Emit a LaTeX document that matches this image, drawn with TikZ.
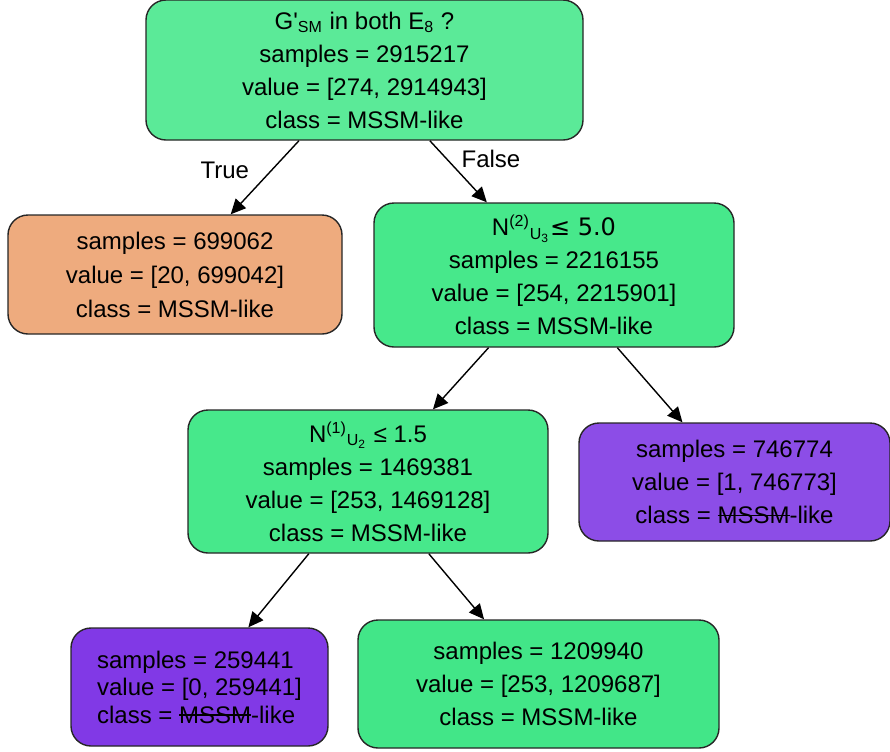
\documentclass[tikz,border=0pt]{standalone}
\usepackage{fontspec}
\setmainfont{Liberation Sans}
\newfontfamily\dejavu{DejaVu Sans}
\usetikzlibrary{arrows.meta}

\newsavebox{\strikebox}
\newcommand{\strikeword}[1]{\sbox{\strikebox}{#1}\rlap{\rule[0.3em]{\wd\strikebox}{0.07em}}\usebox{\strikebox}}

\definecolor{rootgreen}{HTML}{5BEA98}
\definecolor{splitgreen}{HTML}{47E88B}
\definecolor{leafgreen}{HTML}{42E688}
\definecolor{leaforange}{HTML}{EEAB7E}
\definecolor{leafpurple}{HTML}{8C4DE7}
\definecolor{deeppurple}{HTML}{8139E6}

\tikzstyle{treenode} = [rectangle, rounded corners=10pt, draw=black!85, line width=0.7pt, text centered, align=center, inner sep=0pt, font=\fontsize{12}{16.5}\selectfont]
\tikzstyle{split} = [treenode, fill=splitgreen, minimum width=180pt, minimum height=72pt]
\tikzstyle{orangeleaf} = [treenode, fill=leaforange, minimum width=167pt, minimum height=59.5pt, font=\fontsize{12}{17}\selectfont]
\tikzstyle{purpleleaf} = [treenode, fill=leafpurple, minimum width=155.5pt, minimum height=59pt]
\tikzstyle{greenleaf} = [treenode, fill=leafgreen, minimum width=180.5pt, minimum height=64pt]
\tikzstyle{arrow} = [line width=0.7pt, -{Triangle[length=7.5pt,width=7pt]}]
\tikzstyle{edgelabel} = [font=\fontsize{12}{14}\selectfont, inner sep=3pt]

\begin{document}
\begin{tikzpicture}[x=0.5pt,y=-0.5pt]
\useasboundingbox (0,0) rectangle (890,751);

\node (root) [split, fill=rootgreen, minimum width=218.5pt, minimum height=70pt] at (364.5,70) {G\textquotesingle\textsubscript{SM} in both E\textsubscript{8} ?\\ samples = 2915217\\ value = [274, 2914943]\\ class = MSSM-like};

\node (leaf_true) [orangeleaf] at (175,274.5) {samples = 699062\\ value = [20, 699042]\\ class = MSSM-like};

\node (split_u3) [split] at (554,275) {N\textsuperscript{(2)}\textsubscript{U\textsubscript{3}}{\dejavu≤ 5.0}\\ samples = 2216155\\ value = [254, 2215901]\\ class = MSSM-like};

\node (split_u2) [split, minimum height=71.5pt] at (368,481.5) {N\textsuperscript{(1)}\textsubscript{U\textsubscript{2}} ≤ 1.5\\ samples = 1469381\\ value = [253, 1469128]\\ class = MSSM-like};

\node (leaf_right) [purpleleaf] at (734.5,482) {samples = 746774\\ value = [1, 746773]\\ class = \strikeword{MSSM}-like};

\node (leaf_bl) [purpleleaf, fill=deeppurple, minimum width=128.5pt, align=left, font=\fontsize{12}{13.75}\selectfont] at (199.5,687) {samples = 259441\\ value = [0, 259441]\\ class = \strikeword{MSSM}-like};

\node (leaf_br) [greenleaf] at (538.5,684) {samples = 1209940\\ value = [253, 1209687]\\ class = MSSM-like};

\draw [arrow] (root) -- node (lbl_true) [edgelabel, pos=0.4, left=8pt] {True} (leaf_true);
\draw [arrow] (root) -- node (lbl_false) [edgelabel, pos=0.3, right=4pt] {False} (split_u3);

\draw [arrow] (split_u3) -- (split_u2);
\draw [arrow] (split_u3) -- (leaf_right);

\draw [arrow] (split_u2) -- (leaf_bl);
\draw [arrow] (split_u2) -- (leaf_br);

\end{tikzpicture}
\end{document}
